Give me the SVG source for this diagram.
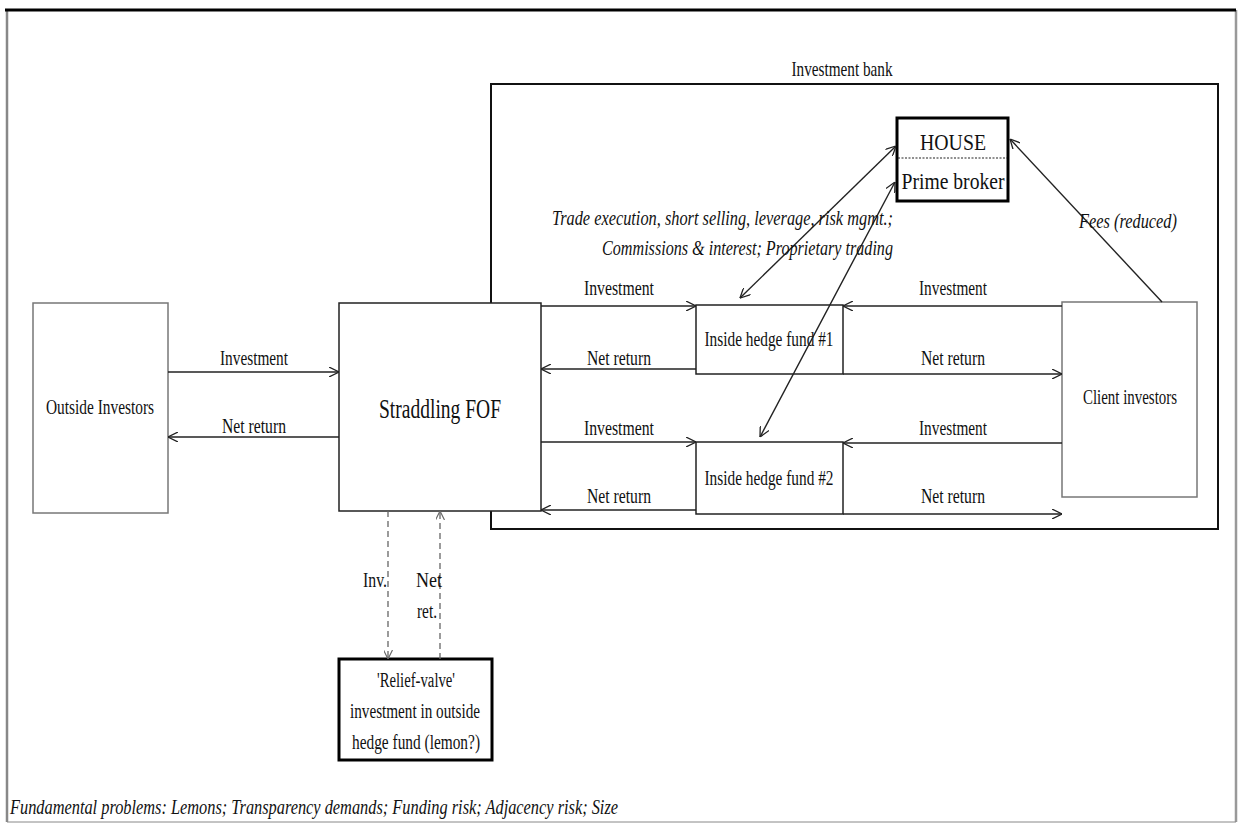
<svg xmlns="http://www.w3.org/2000/svg" width="1240" height="824" viewBox="0 0 1240 824" font-family="'Liberation Serif', 'DejaVu Serif', serif">
<style>
text{font-family:"Liberation Serif","DejaVu Serif",serif;fill:#111;text-anchor:middle}
.s{font-size:20px}
.i{font-style:italic;font-size:20px}
.box{fill:#fff;stroke:#222;stroke-width:1.5}
.gbox{fill:#fff;stroke:#777;stroke-width:1.5}
.tbox{fill:#fff;stroke:#000;stroke-width:3}
.c{stroke:#222;stroke-width:1.4;fill:none}
.d{stroke:#666;stroke-width:1.3;stroke-dasharray:6,4;fill:none}
</style>
<defs>
<marker id="a" viewBox="0 0 10 10" refX="10" refY="5" markerWidth="10" markerHeight="10" markerUnits="userSpaceOnUse" orient="auto-start-reverse">
<path d="M0,0 L10,5 L0,10" fill="none" stroke="#222" stroke-width="1.3"/>
</marker>
<marker id="ag" viewBox="0 0 10 10" refX="10" refY="5" markerWidth="9" markerHeight="9" markerUnits="userSpaceOnUse" orient="auto-start-reverse">
<path d="M0,0 L10,5 L0,10" fill="none" stroke="#666" stroke-width="1.3"/>
</marker>
</defs>
<rect width="1240" height="824" fill="#fff"/>
<g id="frame">
<line x1="7" y1="10" x2="7" y2="822" stroke="#888" stroke-width="2.5"/>
<line x1="1236" y1="10" x2="1236" y2="822" stroke="#999" stroke-width="2.5"/>
<line x1="7" y1="822" x2="1236" y2="822" stroke="#888" stroke-width="1"/>
<line x1="5" y1="10" x2="1236" y2="10" stroke="#000" stroke-width="3"/>
</g>
<g id="investment-bank">
<rect x="491" y="84" width="727" height="445" fill="none" stroke="#111" stroke-width="2"/>
<text x="842" y="76" style="font-size:21px" textLength="101" lengthAdjust="spacingAndGlyphs">Investment bank</text>
</g>
<g id="outside-investors">
<rect class="gbox" x="33" y="303" width="135" height="210"/>
<text class="s" x="100" y="414" textLength="108" lengthAdjust="spacingAndGlyphs">Outside Investors</text>
</g>
<g id="straddling-fof">
<rect class="box" x="339" y="303" width="202" height="208" stroke-width="2"/>
<text x="440" y="418" style="font-size:27px" textLength="122" lengthAdjust="spacingAndGlyphs">Straddling FOF</text>
</g>
<g id="hedge-fund-1">
<rect class="box" x="696" y="305" width="147" height="69"/>
<text class="s" x="769" y="346" textLength="129" lengthAdjust="spacingAndGlyphs">Inside hedge fund #1</text>
</g>
<g id="hedge-fund-2">
<rect class="box" x="696" y="442" width="147" height="72"/>
<text class="s" x="769" y="485" textLength="129" lengthAdjust="spacingAndGlyphs">Inside hedge fund #2</text>
</g>
<g id="client-investors">
<rect class="gbox" x="1062" y="302" width="135" height="195"/>
<text class="s" x="1130" y="404" textLength="94" lengthAdjust="spacingAndGlyphs">Client investors</text>
</g>
<g id="house">
<rect class="tbox" x="897" y="118" width="111" height="83"/>
<line x1="898" y1="158" x2="1007" y2="158" stroke="#222" stroke-width="1.2" stroke-dasharray="2,1.5"/>
<text x="953" y="150" style="font-size:23px" textLength="66" lengthAdjust="spacingAndGlyphs">HOUSE</text>
<text x="953" y="189" style="font-size:24px" textLength="103" lengthAdjust="spacingAndGlyphs">Prime broker</text>
</g>
<g id="relief-valve">
<rect class="tbox" x="339" y="659" width="153" height="101"/>
<text class="s" x="416" y="687" textLength="78" lengthAdjust="spacingAndGlyphs">'Relief-valve'</text>
<text class="s" x="415" y="718" textLength="130" lengthAdjust="spacingAndGlyphs">investment in outside</text>
<text class="s" x="416" y="749" textLength="128" lengthAdjust="spacingAndGlyphs">hedge fund (lemon?)</text>
</g>
<g id="connectors">
<line class="c" x1="168" y1="372" x2="339" y2="372" marker-end="url(#a)"/>
<line class="c" x1="339" y1="437" x2="168" y2="437" marker-end="url(#a)"/>
<line class="c" x1="541" y1="306" x2="696" y2="306" marker-end="url(#a)"/>
<line class="c" x1="696" y1="369" x2="541" y2="369" marker-end="url(#a)"/>
<line class="c" x1="541" y1="442" x2="696" y2="442" marker-end="url(#a)"/>
<line class="c" x1="696" y1="510" x2="541" y2="510" marker-end="url(#a)"/>
<line class="c" x1="1062" y1="306" x2="843" y2="306" marker-end="url(#a)"/>
<line class="c" x1="843" y1="374" x2="1062" y2="374" marker-end="url(#a)"/>
<line class="c" x1="1062" y1="443" x2="843" y2="443" marker-end="url(#a)"/>
<line class="c" x1="843" y1="514" x2="1062" y2="514" marker-end="url(#a)"/>
<line class="c" x1="1162" y1="302" x2="1010" y2="139" marker-end="url(#a)"/>
<line class="c" x1="740" y1="298" x2="896" y2="146" marker-start="url(#a)" marker-end="url(#a)"/>
<line class="c" x1="760" y1="437" x2="895" y2="182" marker-start="url(#a)" marker-end="url(#a)"/>
<line class="d" x1="388" y1="511" x2="388" y2="659" marker-end="url(#ag)"/>
<line class="d" x1="440" y1="659" x2="440" y2="511" marker-end="url(#ag)"/>
<text class="s" x="254" y="365" textLength="68" lengthAdjust="spacingAndGlyphs">Investment</text>
<text class="s" x="254" y="433" textLength="64" lengthAdjust="spacingAndGlyphs">Net return</text>
<text class="s" x="619" y="295" textLength="70" lengthAdjust="spacingAndGlyphs">Investment</text>
<text class="s" x="619" y="365" textLength="64" lengthAdjust="spacingAndGlyphs">Net return</text>
<text class="s" x="619" y="435" textLength="70" lengthAdjust="spacingAndGlyphs">Investment</text>
<text class="s" x="619" y="503" textLength="64" lengthAdjust="spacingAndGlyphs">Net return</text>
<text class="s" x="953" y="295" textLength="68" lengthAdjust="spacingAndGlyphs">Investment</text>
<text class="s" x="953" y="365" textLength="64" lengthAdjust="spacingAndGlyphs">Net return</text>
<text class="s" x="953" y="435" textLength="68" lengthAdjust="spacingAndGlyphs">Investment</text>
<text class="s" x="953" y="503" textLength="64" lengthAdjust="spacingAndGlyphs">Net return</text>
<text class="i" x="1128" y="228" textLength="98" lengthAdjust="spacingAndGlyphs">Fees (reduced)</text>
<text class="i" x="893" y="225" style="text-anchor:end" textLength="341" lengthAdjust="spacingAndGlyphs">Trade execution, short selling, leverage, risk mgmt.;</text>
<text class="i" x="893" y="255" style="text-anchor:end" textLength="291" lengthAdjust="spacingAndGlyphs">Commissions &amp; interest; Proprietary trading</text>
<text class="s" x="375" y="587" textLength="24" lengthAdjust="spacingAndGlyphs">Inv.</text>
<text class="s" x="429" y="587" textLength="26" lengthAdjust="spacingAndGlyphs">Net</text>
<text class="s" x="427" y="618" textLength="20" lengthAdjust="spacingAndGlyphs">ret.</text>
</g>
<text class="i" x="10" y="814" style="text-anchor:start" textLength="608" lengthAdjust="spacingAndGlyphs">Fundamental problems: Lemons; Transparency demands; Funding risk; Adjacency risk; Size</text>
</svg>
